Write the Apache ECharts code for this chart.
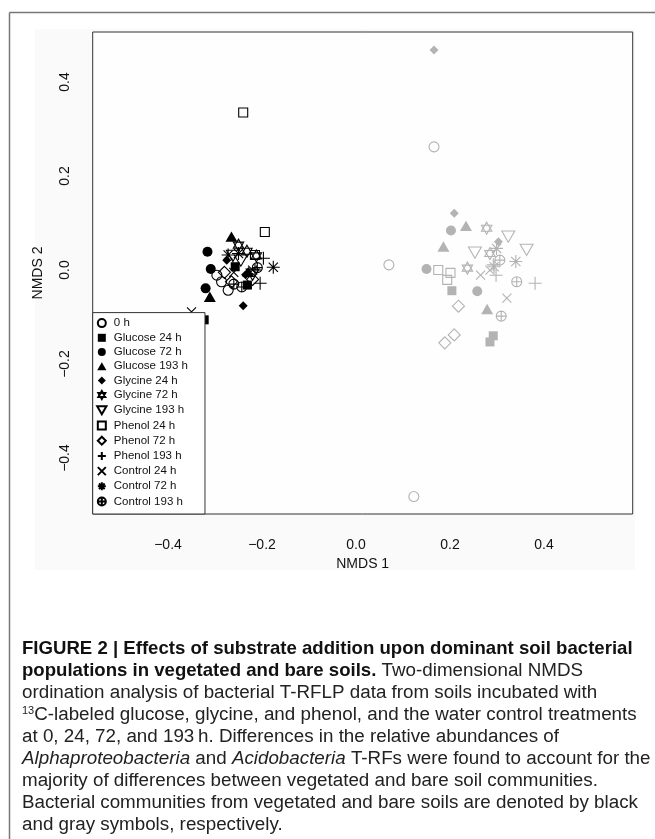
<!DOCTYPE html>
<html>
<head>
<meta charset="utf-8">
<script src="https://cdn.jsdelivr.net/npm/echarts@6/dist/echarts.min.js"></script>
<style>
html,body{margin:0;padding:0;background:#fff;}
#chart{width:655px;height:839px;}
</style>
</head>
<body>
<div id="chart"></div>
<script>
// ---- Data (NMDS 1, NMDS 2) ----
const categories = ['0 h','Glucose 24 h','Glucose 72 h','Glucose 193 h','Glycine 24 h','Glycine 72 h','Glycine 193 h','Phenol 24 h','Phenol 72 h','Phenol 193 h','Control 24 h','Control 72 h','Control 193 h'];
const xTicks = [-0.4, -0.2, 0.0, 0.2, 0.4];
const yTicks = [-0.4, -0.2, 0.0, 0.2, 0.4];

// vegetated soils (black)
const veg_0h        = [[-0.296,-0.011],[-0.286,-0.025],[-0.272,-0.043]];
const veg_glu24     = [[-0.323,-0.106],[-0.231,-0.032],[-0.257,0.007]];
const veg_glu72     = [[-0.316,0.039],[-0.309,0.002],[-0.320,-0.039]];
const veg_glu193    = [[-0.265,0.071],[-0.311,-0.057],[-0.229,-0.004]];
const veg_gly24     = [[-0.275,0.021],[-0.240,-0.076],[-0.235,-0.010]];
const veg_gly72     = [[-0.250,0.053],[-0.232,0.040],[-0.212,0.030]];
const veg_gly193    = [[-0.245,0.020],[-0.220,-0.010],[-0.262,0.030]];
const veg_phe24     = [[-0.240,0.335],[-0.194,0.081],[-0.215,0.032]];
const veg_phe72     = [[-0.265,-0.025],[-0.220,-0.020],[-0.280,-0.005]];
const veg_phe193    = [[-0.197,0.025],[-0.204,-0.028],[-0.215,0.000]];
const veg_con24     = [[-0.350,-0.089],[-0.260,-0.005],[-0.220,0.000]];
const veg_con72     = [[-0.176,0.006],[-0.272,0.032],[-0.250,0.035]];
const veg_con193    = [[-0.243,-0.036],[-0.210,0.005],[-0.260,-0.030]];

// bare soils (gray)
const bare_0h       = [[0.070,0.011],[0.166,0.262],[0.123,-0.482]];
const bare_glu24    = [[0.204,-0.044],[0.285,-0.153],[0.292,-0.140]];
const bare_glu72    = [[0.202,0.084],[0.150,0.002],[0.258,-0.045]];
const bare_glu193   = [[0.234,0.094],[0.186,0.050],[0.279,-0.083]];
const bare_gly24    = [[0.166,0.468],[0.209,0.121],[0.303,0.060]];
const bare_gly72    = [[0.278,0.089],[0.237,0.004],[0.285,0.035]];
const bare_gly193   = [[0.324,0.071],[0.253,0.037],[0.363,0.043]];
const bare_phe24    = [[0.175,0.000],[0.201,-0.006],[0.194,-0.021]];
const bare_phe72    = [[0.218,-0.077],[0.189,-0.155],[0.209,-0.138]];
const bare_phe193   = [[0.381,-0.028],[0.298,-0.011],[0.292,0.011]];
const bare_con24    = [[0.321,-0.060],[0.265,-0.011],[0.285,0.000]];
const bare_con72    = [[0.340,0.018],[0.299,0.046],[0.294,0.007]];
const bare_con193   = [[0.306,0.021],[0.342,-0.025],[0.309,-0.098]];

const vegData  = [veg_0h,veg_glu24,veg_glu72,veg_glu193,veg_gly24,veg_gly72,veg_gly193,veg_phe24,veg_phe72,veg_phe193,veg_con24,veg_con72,veg_con193];
const bareData = [bare_0h,bare_glu24,bare_glu72,bare_glu193,bare_gly24,bare_gly72,bare_gly193,bare_phe24,bare_phe72,bare_phe193,bare_con24,bare_con72,bare_con193];

// ---- Symbol styles ----
const P = {
  circle:   'path://M-1 0A1 1 0 1 0 1 0A1 1 0 1 0 -1 0Z',
  square:   'path://M-1 -1L1 -1L1 1L-1 1Z',
  diamond:  'path://M0 -1L1 0L0 1L-1 0Z',
  triUp:    'path://M0 -1L1 0.732L-1 0.732Z',
  triDown:  'path://M-1 -0.732L1 -0.732L0 1Z',
  star6:    'path://M0 -1L0.866 0.5L-0.866 0.5ZM0 1L0.866 -0.5L-0.866 -0.5Z',
  plus:     'path://M-1 0L1 0M0 -1L0 1',
  cross:    'path://M-1 -1L1 1M-1 1L1 -1',
  asterisk: 'path://M-1 0L1 0M0 -1L0 1M-0.707 -0.707L0.707 0.707M-0.707 0.707L0.707 -0.707',
  cplus:    'path://M-1 0A1 1 0 1 0 1 0A1 1 0 1 0 -1 0ZM-1 0L1 0M0 -1L0 1'
};
// [symbol, filled?, size]
const symbolSpec = [
  [P.circle, false, 10],
  [P.square, true, 9],
  [P.circle, true, 10],
  [P.triUp, true, 12],
  [P.diamond, true, 9],
  [P.star6, false, 12],
  [P.triDown, false, 13],
  [P.square, false, 9],
  [P.diamond, false, 12],
  [P.plus, false, 13],
  [P.cross, false, 9],
  [P.asterisk, false, 13],
  [P.cplus, false, 10]
];

function makeSeries(name, data, idx, col) {
  const s = symbolSpec[idx];
  return {
    type: 'scatter',
    name: name,
    data: data,
    symbol: s[0],
    symbolSize: s[2],
    symbolKeepAspect: true,
    itemStyle: s[1]
      ? { color: col, borderWidth: 0, opacity: 1 }
      : { color: 'none', borderColor: col, borderWidth: 1.1, opacity: 1 },
    emphasis: { disabled: true },
    z: 3
  };
}

const series = [];
categories.forEach((c, i) => series.push(makeSeries(c, vegData[i], i, '#000000')));
categories.forEach((c, i) => series.push(makeSeries(c + ' (bare)', bareData[i], i, '#b3b3b3')));

const FONT = 'Liberation Sans, Arial, sans-serif';
const fmt = v => (v < 0 ? '\u2212' : '') + Math.abs(v).toFixed(1);

const chart = echarts.init(document.getElementById('chart'), null, { renderer: 'canvas' });

const captionLines = [
  '{b|FIGURE 2 | Effects of substrate addition upon dominant soil bacterial}',
  '{b|populations in vegetated and bare soils.} Two-dimensional NMDS',
  'ordination analysis of bacterial T-RFLP data from soils incubated with',
  '{s|13}C-labeled glucose, glycine, and phenol, and the water control treatments',
  'at 0, 24, 72, and 193\u2009h. Differences in the relative abundances of',
  '{i|Alphaproteobacteria} and {i|Acidobacteria} T-RFs were found to account for the',
  'majority of differences between vegetated and bare soil communities.',
  'Bacterial communities from vegetated and bare soils are denoted by black',
  'and gray symbols, respectively.'
];
const capFont = 'Liberation Sans Narrow, Liberation Sans, Arial, sans-serif';
const CAPSZ = 18.8;
const captionGraphics = captionLines.map((t, i) => ({
  type: 'text',
  left: 22,
  top: 639 + i * 22.1,
  silent: true,
  style: {
    text: t,
    fill: '#222',
    font: CAPSZ + 'px ' + capFont,
    rich: {
      b: { fontWeight: 'bold', fontSize: 18.6, fontFamily: capFont, fill: '#111' },
      i: { fontStyle: 'italic', fontSize: CAPSZ, fontFamily: capFont, fill: '#222' },
      s: { fontSize: 11, fontFamily: capFont, fill: '#222', verticalAlign: 'top', padding: [0, 0, 8, 0] }
    }
  }
}));

chart.setOption({
  animation: false,
  backgroundColor: '#ffffff',
  grid: {
    left: 92.7, right: 22.3, top: 32, bottom: 325,
    show: true, borderColor: '#333', borderWidth: 1, backgroundColor: '#fefefe', z: 1
  },
  xAxis: {
    type: 'value',
    min: -0.5602, max: 0.5887,
    name: 'NMDS 1', nameLocation: 'middle', nameGap: 41,
    nameTextStyle: { fontFamily: FONT, fontSize: 14, color: '#111' },
    axisLine: { show: false },
    splitLine: { show: false },
    axisTick: { show: true, inside: false, length: 8, lineStyle: { color: '#333', width: 1 }, customValues: xTicks },
    axisLabel: { customValues: xTicks, formatter: fmt, margin: 24, fontFamily: FONT, fontSize: 14, color: '#111' }
  },
  yAxis: {
    type: 'value',
    min: -0.5191, max: 0.5064,
    name: 'NMDS 2', nameLocation: 'middle', nameGap: 48,
    nameTextStyle: { fontFamily: FONT, fontSize: 14, color: '#111' },
    axisLine: { show: false },
    splitLine: { show: false },
    axisTick: { show: true, inside: false, length: 8, lineStyle: { color: '#333', width: 1 }, customValues: yTicks },
    axisLabel: { customValues: yTicks, formatter: fmt, rotate: 90, margin: 21, fontFamily: FONT, fontSize: 14, color: '#111' }
  },
  legend: {
    data: categories,
    orient: 'vertical',
    left: 92.7,
    bottom: 325,
    itemWidth: 14,
    itemHeight: 8,
    itemGap: 2.2,
    padding: [4, 17, 6, 2],
    backgroundColor: '#ffffff',
    borderColor: '#333',
    borderWidth: 1,
    borderRadius: 0,
    selectedMode: false,
    textStyle: { fontFamily: FONT, fontSize: 11.5, color: '#111', lineHeight: 12 },
    z: 10
  },
  graphic: [
    { type: 'rect', shape: { x: 35, y: 29, width: 600, height: 541 }, style: { fill: '#fafafa' }, z: -10, silent: true },
    { type: 'line', shape: { x1: 9.5, y1: 12.5, x2: 655, y2: 12.5 }, style: { stroke: '#777', lineWidth: 1.5 }, silent: true },
    { type: 'line', shape: { x1: 9.5, y1: 12.5, x2: 9.5, y2: 839 }, style: { stroke: '#777', lineWidth: 1.5 }, silent: true }
  ].concat(captionGraphics),
  series: series
});
</script>
</body>
</html>
